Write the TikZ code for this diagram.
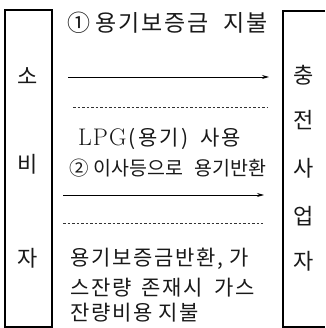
\documentclass[tikz,border=0pt]{standalone}
\usepackage{fontspec}
\setmainfont{Noto Sans CJK KR}
\newfontfamily\widefont{Noto Sans CJK KR}[LetterSpace=8]
\newfontfamily\latinfont{Latin Modern Roman}[LetterSpace=4]
\newcommand\gp[1]{\hspace{#1pt}}
\usetikzlibrary{arrows.meta}
\tikzset{
  frame/.style={draw=black, line width=1.4pt},
  lbl/.style={inner sep=0pt, anchor=west, font=\widefont\fontsize{21}{21}\selectfont, text=black!90},
  narrow/.style={inner sep=0pt, anchor=west, font=\fontsize{19.5}{19.5}\selectfont, text=black!90},
  side/.style={inner sep=0pt, font=\fontsize{22}{22}\selectfont, text=black!90},
  flow/.style={draw=black, line width=0.9pt, -{Stealth[length=7pt,width=4pt]}},
  sep/.style={draw=black!80, line width=0.7pt, dash pattern=on 2.5pt off 2pt}
}
\begin{document}
\begin{tikzpicture}[x=1pt,y=-1pt]
\useasboundingbox (0,0) rectangle (325,328);
\fill[white] (0,0) rectangle (325,328);
% boxes
\draw[frame] (5,10) rectangle (52,327);
\draw[frame] (325,11) -- (283,11) -- (283,327) -- (325,327);
% left text
\node[side] (s1) at (28,76) {소};
\node[side] (s2) at (28,164) {비};
\node[side] (s3) at (28,258) {자};
% right text
\node[side] (r1) at (304,75) {충};
\node[side] (r2) at (304,120) {전};
\node[side] (r3) at (304,168) {사};
\node[side] (r4) at (304,216) {업};
\node[side] (r5) at (304,261) {자};
% middle texts
\node[lbl, font=\widefont\fontsize{23}{23}\selectfont] (t1) at (67,23) {①\gp{5}용기보증금\gp{15}지불};
\coordinate (a1s) at (68,77);
\coordinate (a1e) at (269,77);
\draw[flow] (a1s) -- (a1e);
\coordinate (d1s) at (73,107);
\coordinate (d1e) at (268,107);
\draw[sep] (d1s) -- (d1e);
\node[lbl] (t2) at (78,139) {{\latinfont\fontsize{24}{24}\selectfont LPG}\gp{2}(\gp{3}용기\gp{3})\gp{12}사용};
\node[narrow] (t3) at (69,168) {②\gp{5}이사등으로\gp{11}용기반환};
\coordinate (a2s) at (63,195);
\coordinate (a2e) at (264,195);
\draw[flow] (a2s) -- (a2e);
\coordinate (d2s) at (63,223);
\coordinate (d2e) at (263,223);
\draw[sep] (d2s) -- (d2e);
\node[lbl] (t4) at (70,259) {용기보증금반환, 가};
\node[lbl] (t5) at (70,288) {스잔량\gp{10}존재시\gp{12}가스};
\node[lbl] (t6) at (70,313) {잔량비용 지불};
\end{tikzpicture}
\end{document}
